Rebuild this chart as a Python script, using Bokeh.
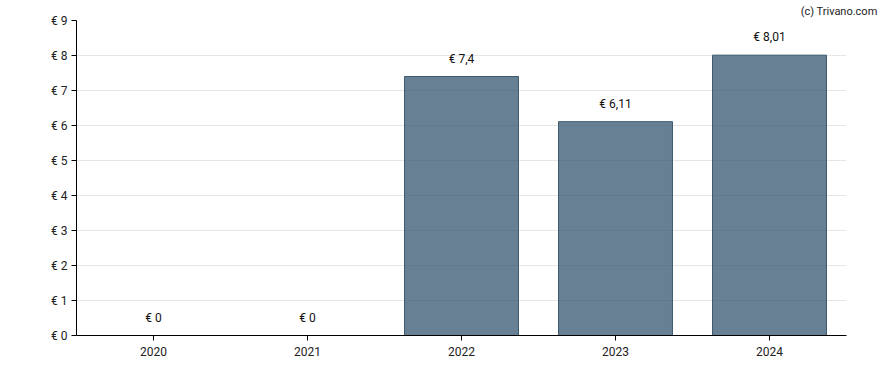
from bokeh.plotting import figure
from bokeh.models import FactorRange, Range1d, FixedTicker, PrintfTickFormatter, ColumnDataSource
from bokeh.core.properties import value
from bokeh.embed import file_html
from bokeh.resources import INLINE

years = ["2020", "2021", "2022", "2023", "2024"]
dividends = [0, 0, 7.4, 6.11, 8.01]
label_texts = ["€ " + (f"{v:g}".replace(".", ",")) for v in dividends]
y_ticks = list(range(0, 10))

src = ColumnDataSource(dict(x=years, top=dividends, lbl=label_texts))

p = figure(x_range=FactorRange(*years, range_padding=0), y_range=Range1d(0, 9),
           width=888, height=370, output_backend="svg", toolbar_location=None,
           min_border_left=76, min_border_right=42, min_border_top=0, min_border_bottom=35,
           title="(c) Trivano.com")
p.title.align = "right"
p.title.text_font = "Roboto"
p.title.text_font_size = "11px"
p.title.text_font_style = "normal"
p.title.text_color = "#222222"
p.title.offset = -31
p.title.standoff = 5
p.outline_line_color = None
p.background_fill_color = "white"

p.vbar(x="x", top="top", width=0.74, source=src, fill_color="#34566f", fill_alpha=0.75,
       line_color="#3d5a6e", line_width=1)
p.text(x="x", y="top", text="lbl", source=src, text_align="center", text_baseline="bottom",
       y_offset=-11, text_font=value("Roboto"), text_font_size="12px", text_color="#111111")

p.xgrid.grid_line_color = None
p.ygrid.grid_line_color = "#e6e6e6"
p.ygrid.ticker = FixedTicker(ticks=y_ticks)

p.yaxis.ticker = FixedTicker(ticks=y_ticks)
p.yaxis.formatter = PrintfTickFormatter(format="€ %d")
for ax in (p.xaxis[0], p.yaxis[0]):
    ax.axis_line_color = "black"
    ax.major_tick_line_color = "black"
    ax.major_tick_out = 5
    ax.major_tick_in = 0
    ax.minor_tick_line_color = None
    ax.major_label_text_font = "Roboto"
    ax.major_label_text_font_size = "12px"
    ax.major_label_text_color = "#222222"
p.yaxis.major_label_standoff = 4
p.xaxis.major_label_standoff = 6

open("out.html", "w").write(file_html(p, INLINE))
